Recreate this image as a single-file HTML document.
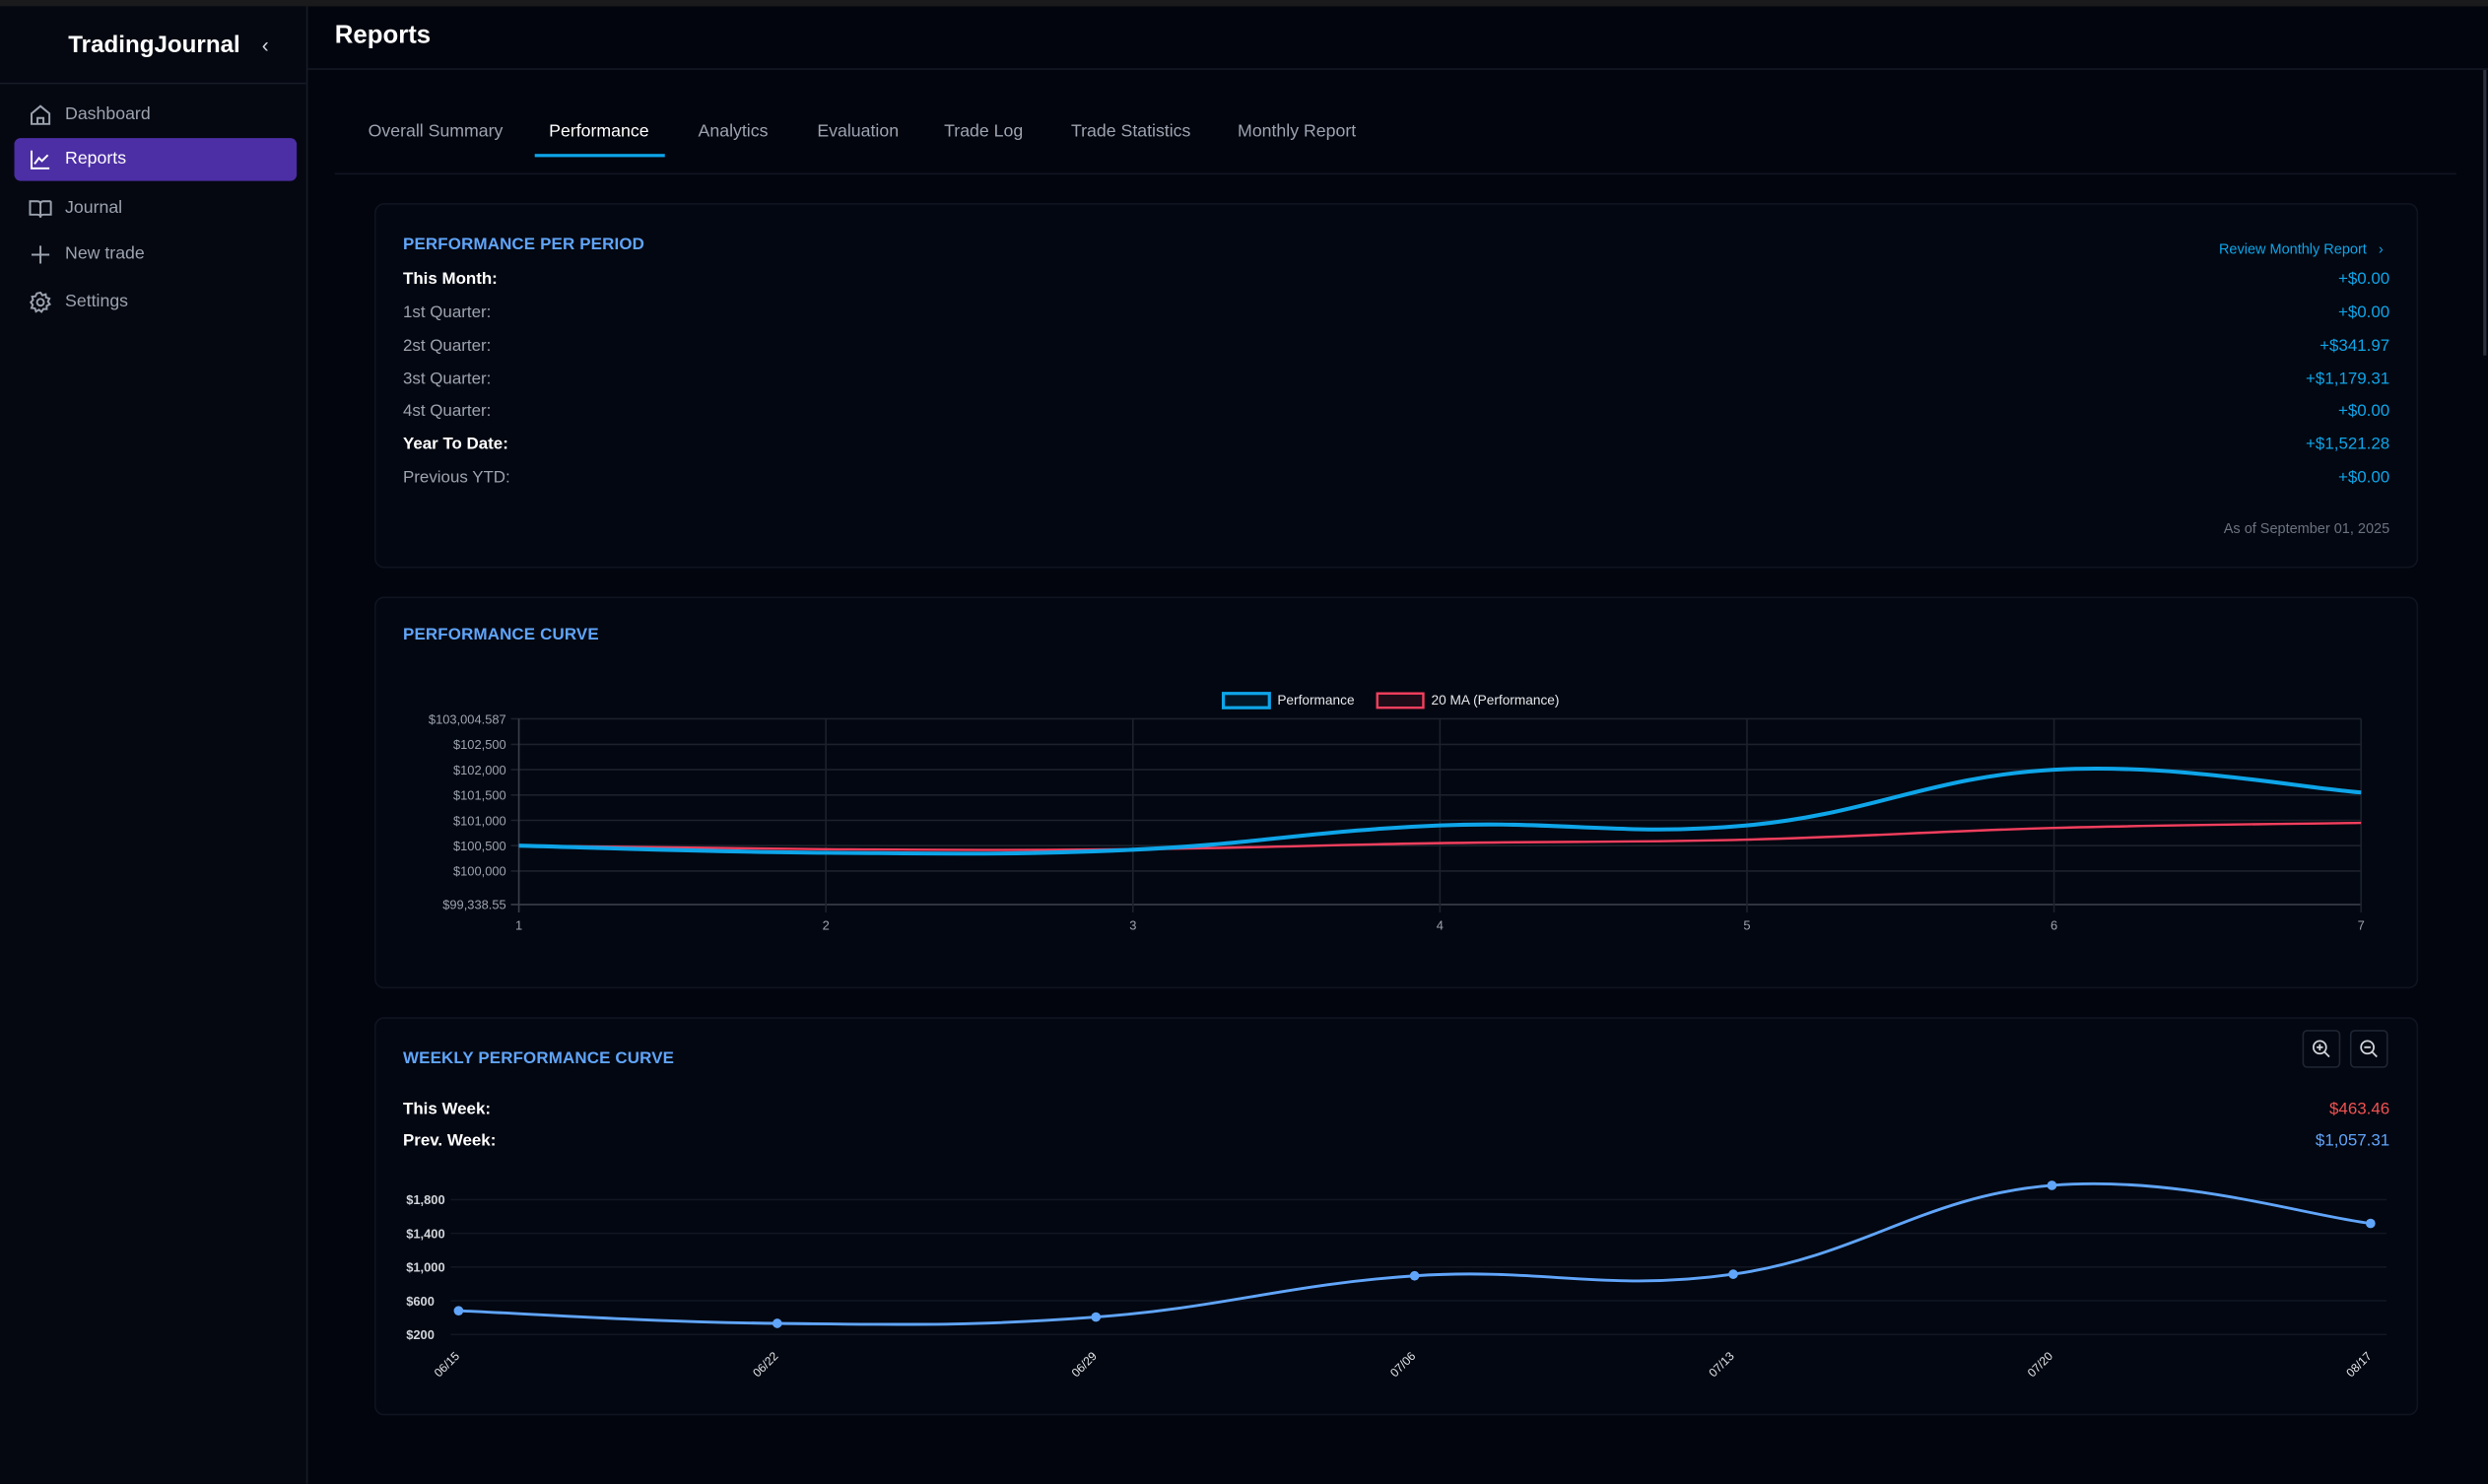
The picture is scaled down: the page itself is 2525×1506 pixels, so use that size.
<!DOCTYPE html>
<html><head><meta charset="utf-8">
<style>
html,body{margin:0;padding:0;width:2525px;height:1505px;overflow:hidden;background:#02050e;}
#root{position:absolute;left:0;top:0;width:1568px;height:935px;transform:scale(1.61033);transform-origin:0 0;font-family:"Liberation Sans",sans-serif;color:#e5e7eb;background:#02050e;}
.abs{position:absolute;}
.side{left:0;top:4px;width:193px;height:931px;background:#050811;border-right:1px solid #161b26;}
.nav{position:absolute;left:9px;width:178px;height:27px;border-radius:4px;font-size:11px;color:#9ca3af;}
.nav span{position:absolute;left:32px;top:7px;}
.nav svg{position:absolute;left:9px;top:6px;}
.tab{position:absolute;top:77px;font-size:11px;color:#9ca3af;}
.card{position:absolute;left:236px;width:1286px;background:#030711;border:1px solid #0f1420;border-radius:6px;}
.ttl{position:absolute;left:17px;font-size:10.5px;font-weight:bold;color:#60a5fa;letter-spacing:0.1px;}
.row{position:absolute;left:17px;font-size:10.5px;color:#9ca3af;}
.row.b{color:#fff;font-weight:bold;}
.val{position:absolute;right:17px;font-size:10.5px;color:#0ea5e9;text-align:right;}
svg text{font-family:"Liberation Sans",sans-serif;}
</style></head><body>
<div id="root">
<div class="abs" style="left:0;top:0;width:1568px;height:4px;background:#1a1a1c"></div>
<div class="abs side">
  <div class="abs" style="left:43px;top:16px;font-size:15px;font-weight:bold;color:#fff">TradingJournal</div>
  <div class="abs" style="left:165px;top:17px;font-size:13px;color:#d1d5db">‹</div>
  <div class="abs" style="left:0;top:48px;width:193px;height:1px;background:#161b26"></div>
  <div class="nav" style="top:55px"><svg width="15" height="15" viewBox="0 0 16 16" fill="none" stroke="#9ca3af" stroke-width="1.3"><path d="M2 7 L8 2 L14 7 V14 H2Z M6 14 V10 H10 V14"/></svg><span>Dashboard</span></div>
  <div class="nav" style="top:83px;background:#4c2ea5;color:#fff"><svg width="15" height="15" viewBox="0 0 16 16" fill="none" stroke="#fff" stroke-width="1.3"><path d="M2 2 V14 H14 M4 11 L7 7 L9 9 L13 5"/></svg><span>Reports</span></div>
  <div class="nav" style="top:114px"><svg width="15" height="15" viewBox="0 0 16 16" fill="none" stroke="#9ca3af" stroke-width="1.3"><path d="M1 3 H6 Q8 3 8 5 V14 Q8 12 6 12 H1Z M15 3 H10 Q8 3 8 5 M8 14 Q8 12 10 12 H15 V3"/></svg><span>Journal</span></div>
  <div class="nav" style="top:143px"><svg width="15" height="15" viewBox="0 0 16 16" fill="none" stroke="#9ca3af" stroke-width="1.3"><path d="M8 2 V14 M2 8 H14"/></svg><span>New trade</span></div>
  <div class="nav" style="top:173px"><svg width="15" height="15" viewBox="0 0 16 16" fill="none" stroke="#9ca3af" stroke-width="1.3"><circle cx="8" cy="8" r="2.3"/><path d="M8 1.5 L9.3 3.3 L11.5 2.6 L11.8 4.8 L14 5.5 L13 7.5 L14.3 9.3 L12.2 10.4 L12.2 12.6 L10 12.5 L8.7 14.4 L7 13 L5 14.2 L4.3 12.1 L2 11.8 L2.8 9.7 L1.5 8 L3 6.4 L2.4 4.2 L4.6 4 L5.6 2 Z"/></svg><span>Settings</span></div>
</div>
<div class="abs" style="left:211px;top:14px;font-size:16px;font-weight:bold;color:#fff">Reports</div>
<div class="abs" style="left:194px;top:43px;width:1374px;height:1px;background:#131824"></div>
<div class="tab" style="left:232px">Overall Summary</div>
<div class="tab" style="left:346px;color:#fff">Performance</div>
<div class="abs" style="left:337px;top:97px;width:82px;height:2px;background:#0ea5e9"></div>
<div class="tab" style="left:440px">Analytics</div>
<div class="tab" style="left:515px">Evaluation</div>
<div class="tab" style="left:595px">Trade Log</div>
<div class="tab" style="left:675px">Trade Statistics</div>
<div class="tab" style="left:780px">Monthly Report</div>
<div class="abs" style="left:211px;top:109px;width:1337px;height:1px;background:#111622"></div>
<div class="abs" style="left:1565px;top:44px;width:2px;height:180px;background:#2a2f3a"></div>

<div class="card" style="top:128px;height:228px">
  <div class="ttl" style="top:19px">PERFORMANCE PER PERIOD</div>
  <div class="abs" style="right:21px;top:23px;font-size:9px;color:#0ea5e9">Review Monthly Report &nbsp;&nbsp;›</div>
  <div class="row b" style="top:41px">This Month:</div><div class="val" style="top:41px">+$0.00</div>
  <div class="row" style="top:62px">1st Quarter:</div><div class="val" style="top:62px">+$0.00</div>
  <div class="row" style="top:83px">2st Quarter:</div><div class="val" style="top:83px">+$341.97</div>
  <div class="row" style="top:104px">3st Quarter:</div><div class="val" style="top:104px">+$1,179.31</div>
  <div class="row" style="top:124px">4st Quarter:</div><div class="val" style="top:124px">+$0.00</div>
  <div class="row b" style="top:145px">Year To Date:</div><div class="val" style="top:145px">+$1,521.28</div>
  <div class="row" style="top:166px">Previous YTD:</div><div class="val" style="top:166px">+$0.00</div>
  <div class="abs" style="right:17px;top:199px;font-size:9px;color:#6b7280">As of September 01, 2025</div>
</div>

<div class="card" style="top:376px;height:245px">
  <div class="ttl" style="top:17px">PERFORMANCE CURVE</div>
</div>
<div class="card" style="top:641px;height:249px">
  <div class="ttl" style="top:19px">WEEKLY PERFORMANCE CURVE</div>
  <div class="abs" style="left:1214px;top:7px;width:22px;height:22px;border:1px solid #1f2533;border-radius:3px"><svg width="22" height="22" viewBox="0 0 22 22" fill="none" stroke="#d1d5db" stroke-width="1.1"><circle cx="10" cy="10" r="4"/><path d="M13 13 L16 16 M8 10 H12 M10 8 V12"/></svg></div>
  <div class="abs" style="left:1244px;top:7px;width:22px;height:22px;border:1px solid #1f2533;border-radius:3px"><svg width="22" height="22" viewBox="0 0 22 22" fill="none" stroke="#d1d5db" stroke-width="1.1"><circle cx="10" cy="10" r="4"/><path d="M13 13 L16 16 M8 10 H12"/></svg></div>
  <div class="row b" style="top:51px">This Week:</div><div class="val" style="top:51px;color:#f05252">$463.46</div>
  <div class="row b" style="top:71px">Prev. Week:</div><div class="val" style="top:71px;color:#60a5fa">$1,057.31</div>
</div>

<svg id="perf" class="abs" style="left:0;top:0" width="1568" height="935"></svg>
</div>
<script>
// Performance curve data
const perfLabels = ["1","2","3","4","5","6","7"];
const perfValues = [100500, 100360, 100420, 100900, 100900, 102000, 101550];
const maValues = [100500, 100430, 100430, 100550, 100620, 100850, 100950];
const perfTickValues = [99338.55, 100000, 100500, 101000, 101500, 102000, 102500, 103004.587];
const perfTickLabels = ["$99,338.55","$100,000","$100,500","$101,000","$101,500","$102,000","$102,500","$103,004.587"];
// Weekly data
const weekLabels = ["06/15","06/22","06/29","07/06","07/13","07/20","08/17"];
const weekValues = [482, 332, 407, 896, 915, 1969, 1518];
const weekTickValues = [200, 600, 1000, 1400, 1800];
const weekTickLabels = ["$200","$600","$1,000","$1,400","$1,800"];

const NS="http://www.w3.org/2000/svg";
const svg=document.getElementById('perf');
function mk(tag,attrs,parent){const e=document.createElementNS(NS,tag);for(const k in attrs)e.setAttribute(k,attrs[k]);(parent||svg).appendChild(e);return e;}
function smooth(pts,t){let d="M"+pts[0][0]+","+pts[0][1];for(let i=0;i<pts.length-1;i++){const p0=pts[Math.max(0,i-1)],p1=pts[i],p2=pts[i+1],p3=pts[Math.min(pts.length-1,i+2)];const c1x=p1[0]+(p2[0]-p0[0])*t/2,c1y=p1[1]+(p2[1]-p0[1])*t/2,c2x=p2[0]-(p3[0]-p1[0])*t/2,c2y=p2[1]-(p3[1]-p1[1])*t/2;d+=" C"+c1x+","+c1y+" "+c2x+","+c2y+" "+p2[0]+","+p2[1];}return d;}

// Performance chart axes
const pX0=327,pX1=1488,pYT=453,pYB=570,pMin=99338.55,pMax=103004.587;
const px=i=>pX0+(pX1-pX0)*i/(perfLabels.length-1);
const py=v=>pYB-(v-pMin)/(pMax-pMin)*(pYB-pYT);
perfTickValues.forEach((v,i)=>{
  const g=mk('line',{x1:pX0-5,x2:pX1,y1:py(v),y2:py(v),stroke:i==0?'#3a3f4a':'#1c212b','stroke-width':1});
  
  const t=mk('text',{x:pX0-8,y:py(v)+3,'text-anchor':'end','font-size':8,fill:'#9ca3af'});t.textContent=perfTickLabels[i];
  
});
perfLabels.forEach((l,i)=>{
  const g=mk('line',{x1:px(i),x2:px(i),y1:pYT,y2:pYB+5,stroke:i==0?'#3a3f4a':'#1c212b','stroke-width':1});
  
  const t=mk('text',{x:px(i),y:pYB+16,'text-anchor':'middle','font-size':8,fill:'#9ca3af'});t.textContent=l;
  
});
const maLine=mk('path',{d:smooth(maValues.map((v,i)=>[px(i),py(v)]),0.4),fill:'none',stroke:'#f43f5e','stroke-width':1.5});

const pLine=mk('path',{d:smooth(perfValues.map((v,i)=>[px(i),py(v)]),0.4),fill:'none',stroke:'#0ea5e9','stroke-width':2.5});

// legend
let lg=mk('rect',{x:771,y:437,width:29,height:9,fill:'#031627',stroke:'#0ea5e9','stroke-width':2});

let lt=mk('text',{x:805,y:444,'font-size':8.5,fill:'#e5e7eb'});lt.textContent='Performance';

lg=mk('rect',{x:868,y:437,width:29,height:9,fill:'#1e0c18',stroke:'#f43f5e','stroke-width':1.5});

lt=mk('text',{x:902,y:444,'font-size':8.5,fill:'#e5e7eb'});lt.textContent='20 MA (Performance)';


// Weekly chart axes
const wX0=289,wX1=1494,wYB=841,wYT=756,wMin=200,wMax=1800;
const wx=i=>wX0+(wX1-wX0)*i/(weekLabels.length-1);
const wy=v=>wYB-(v-wMin)/(wMax-wMin)*(wYB-wYT);
weekTickValues.forEach((v,i)=>{
  const g=mk('line',{x1:wX0-5,x2:1504,y1:wy(v),y2:wy(v),stroke:'#111622','stroke-width':1});
  
  const t=mk('text',{x:256,y:wy(v)+3,'font-size':8,fill:'#d1d5db','font-weight':'bold'});t.textContent=weekTickLabels[i];
  
});
weekLabels.forEach((l,i)=>{
  const t=mk('text',{x:wx(i)+1,y:855,'text-anchor':'end','font-size':7.5,fill:'#e5e7eb',transform:'rotate(-45 '+(wx(i)+1)+' 855)'});t.textContent=l;
  
});
const wLine=mk('path',{d:smooth(weekValues.map((v,i)=>[wx(i),wy(v)]),0.4),fill:'none',stroke:'#60a5fa','stroke-width':1.8});

weekValues.forEach((v,i)=>{
  const c=mk('circle',{cx:wx(i),cy:wy(v),r:3,fill:'#60a5fa'});
  
});
</script>
</body></html>
